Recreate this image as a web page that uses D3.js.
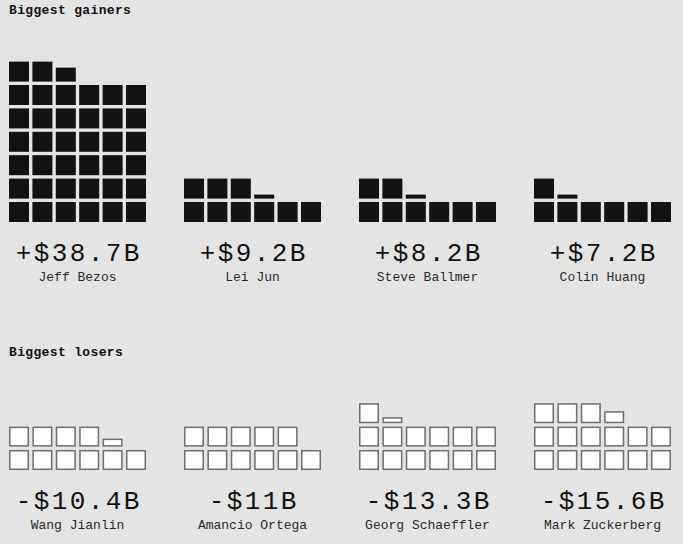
<!DOCTYPE html>
<html lang="en">
<head>
<meta charset="UTF-8" />
<title>Biggest gainers and losers</title>
<script src="https://cdn.jsdelivr.net/npm/d3@7"></script>
<style>
    body { margin: 0; background: #e4e4e4; overflow: hidden; }
    svg { display: block; }
    .title { font-family: 'Liberation Mono', monospace; font-weight: bold; font-size: 13px; letter-spacing: 0.35px; fill: #111; }
    .value { font-family: 'Liberation Mono', monospace; font-size: 26px; letter-spacing: 2.4px; fill: #111; }
    .name { font-family: 'Liberation Mono', monospace; font-size: 13px; fill: #2a2a2a; }
</style>
</head>
<body>
<div id="chart"></div>
<script>
// one square = $1B
const gainerNames = ['Jeff Bezos', 'Lei Jun', 'Steve Ballmer', 'Colin Huang']
const gainerValues = [38.7, 9.2, 8.2, 7.2]
const gainerLabels = ['+$38.7B', '+$9.2B', '+$8.2B', '+$7.2B']

const loserNames = ['Wang Jianlin', 'Amancio Ortega', 'Georg Schaeffler', 'Mark Zuckerberg']
const loserValues = [10.4, 11, 13.3, 15.6]
const loserLabels = ['-$10.4B', '-$11B', '-$13.3B', '-$15.6B']

const width = 683
const height = 544
const perRow = 6

const svg = d3.select('#chart').append('svg').attr('width', width).attr('height', height)

const groupX = d3.scaleBand().domain(d3.range(4)).range([9, 9 + 4 * 175]).paddingInner(0)
const colX = d3.scaleBand().domain(d3.range(perRow)).range([0, 137]).paddingInner(0.145)
const cell = colX.bandwidth()
const step = colX.step()

// split a value into squares: full ones, then a partial one whose height is the remainder
const toCells = (v) => {
    const cells = []
    const full = Math.floor(v + 1e-9)
    for (let i = 0; i < full; i++) cells.push({ i, frac: 1 })
    const rest = +(v - full).toFixed(2)
    if (rest > 0) cells.push({ i: full, frac: rest })
    return cells
}

const drawSection = (title, titleY, names, values, labels, bottom, dark) => {
    svg.append('text').attr('class', 'title').attr('x', 9).attr('y', titleY).text(title)

    const rowY = d3.scaleLinear().domain([0, 1]).range([bottom, bottom - step])
    const fracH = d3.scaleLinear().domain([0, 1]).range([0, cell])

    names.forEach((name, g) => {
        const grp = svg.append('g').attr('transform', `translate(${groupX(g)},0)`)
        grp.selectAll('rect')
            .data(toCells(values[g]))
            .enter()
            .append('rect')
            .attr('x', (d) => colX(d.i % perRow) + (dark ? 0 : 0.75))
            .attr('y', (d) => rowY(Math.floor(d.i / perRow)) - fracH(d.frac) + (dark ? 0 : 0.75))
            .attr('width', dark ? cell : cell - 1.5)
            .attr('height', (d) => (dark ? fracH(d.frac) : fracH(d.frac) - 1.5))
            .attr('fill', dark ? '#121212' : '#fff')
            .attr('stroke', dark ? 'none' : '#6e6e6e')
            .attr('stroke-width', 1.5)

        const cx = 137 / 2
        grp.append('text').attr('class', 'value').attr('x', cx + 1.2).attr('y', bottom + 39).attr('text-anchor', 'middle').text(labels[g])
        grp.append('text').attr('class', 'name').attr('x', cx).attr('y', bottom + 59).attr('text-anchor', 'middle').text(name)
    })
}

drawSection('Biggest gainers', 14, gainerNames, gainerValues, gainerLabels, 222, true)
drawSection('Biggest losers', 356, loserNames, loserValues, loserLabels, 470, false)
</script>
</body>
</html>
